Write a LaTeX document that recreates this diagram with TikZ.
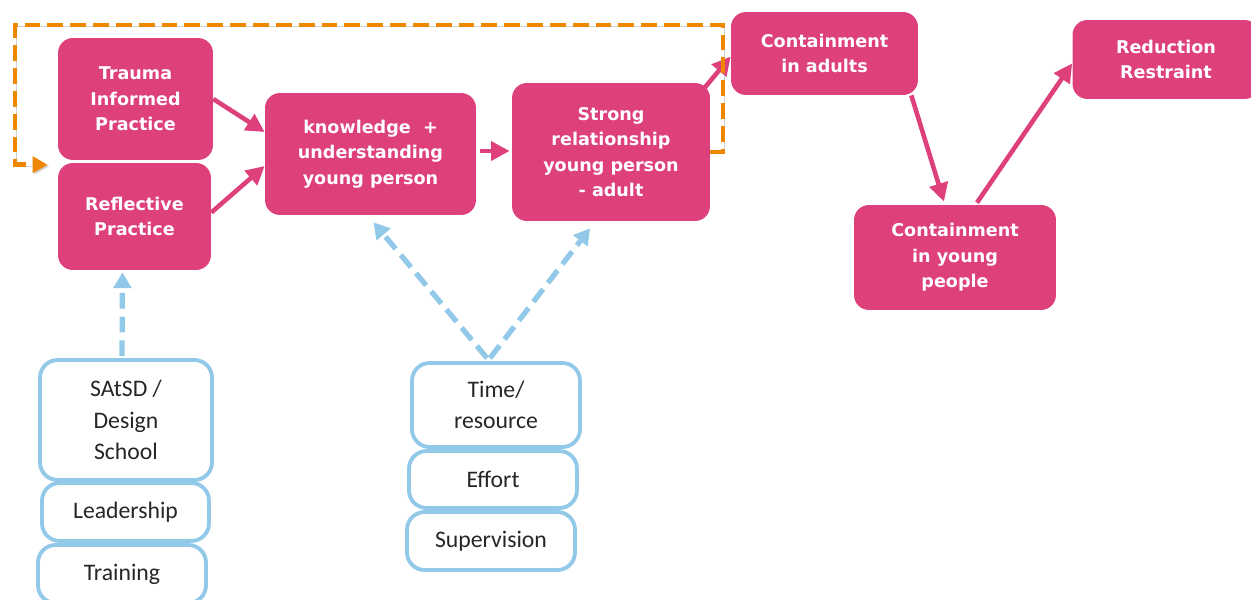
\documentclass[tikz,border=0pt]{standalone}
\usepackage{fontspec}
\setmainfont{DejaVu Sans}
\newfontfamily\calfont{Carlito}
\usetikzlibrary{calc,positioning,arrows.meta}
\definecolor{rosa}{RGB}{222,64,124}
\definecolor{sky}{RGB}{146,201,232}
\definecolor{amber}{RGB}{240,135,0}
\tikzset{
  pinknode/.style = {shape=rectangle, rounded corners=8.5pt,
                     fill=rosa, text=white, align=center, inner sep=2pt,
                     font=\fontsize{10}{14.5}\selectfont\bfseries},
  bluenode/.style = {shape=rectangle, rounded corners=10pt,
                     draw=sky, line width=2.2pt, fill=white, align=center,
                     inner sep=2pt, text=black!85,
                     font=\calfont\fontsize{13.5}{18}\selectfont},
  flow/.style     = {draw=rosa, line width=2.6pt,
                     -{Triangle[length=10.5pt,width=10.5pt]}},
  feed/.style     = {draw=sky, line width=3pt, dash pattern=on 9pt off 4.5pt,
                     -{Triangle[length=9pt,width=10pt]}},
  backloop/.style = {draw=amber, line width=2.8pt, dash pattern=on 9pt off 4pt,
                     -{Triangle[length=8.5pt,width=9pt]},
                     preaction={draw=black!35, opacity=0.5,
                                transform canvas={shift={(0.9pt,-0.9pt)}}}}
}

\begin{document}
\begin{tikzpicture}[x=0.02cm,y=-0.02cm]
\useasboundingbox (0,0) rectangle (1251,599);
% pink chain
\node [pinknode, minimum width=3.1cm, minimum height=2.44cm] (trauma) at (135.5,99) {Trauma\\Informed\\Practice};
\node [pinknode, minimum width=3.06cm, minimum height=2.14cm] (reflect) at (134.5,216.5) {Reflective\\Practice};
\node [pinknode, minimum width=4.22cm, minimum height=2.44cm] (know) at (370.5,154) {knowledge~~+\\understanding\\young person};
\node [pinknode, minimum width=3.96cm, minimum height=2.76cm] (strong) at (611,152) {Strong\\relationship\\young person\\- adult};
\node [pinknode, minimum width=3.74cm, minimum height=1.66cm] (adults) at (824.5,53.5) {Containment\\in adults};
\node [pinknode, minimum width=4.04cm, minimum height=2.1cm] (young) at (955,257.5) {Containment\\in young\\people};
\node [pinknode, minimum width=3.74cm, minimum height=1.58cm] (reduce) at (1166,59.5) {Reduction\\Restraint};
% supports
\node [bluenode, minimum width=3.44cm, minimum height=2.4cm] (satsd) at (126,420) {SAtSD /\\Design\\School};
\node [bluenode, minimum width=3.34cm, minimum height=1.16cm] (lead) at (125.5,512) {Leadership};
\node [bluenode, minimum width=3.36cm, minimum height=1.16cm] (train) at (122,574) {Training};
\node [bluenode, minimum width=3.36cm, minimum height=1.68cm] (time) at (496,405) {Time/\\resource};
\node [bluenode, minimum width=3.36cm, minimum height=1.14cm] (effort) at (493,479.5) {Effort};
\node [bluenode, minimum width=3.36cm, minimum height=1.16cm] (superv) at (491,541) {Supervision};
% arrows
\draw [flow] (trauma.east) -- ($(know.west)+(0,-22)$);
\draw [flow] ($(reflect.east)+(0,-4)$) -- ($(know.west)+(0,12)$);
\draw [flow] ($(know.east)+(4,-3)$) -- ($(strong.west)+(-2,-1)$);
\draw [flow] ($(strong.north east)+(-9,9)$) -- ($(adults.west)+(0,3)$);
\draw [flow] ($(adults.south east)+(-7,0)$) -- ($(young.north)+(-11,-3)$);
\draw [flow] ($(young.north)+(22,-2)$) -- ($(reduce.west)+(0,4)$);
\draw [feed] ($(satsd.north)+(-4,-2)$) -- ($(reflect.south)+(-12,2)$);
\draw [feed] ($(time.north)+(-9,-3)$) -- ($(know.south)+(3,7)$);
\draw [feed] ($(time.north)+(-6,-3)$) -- ($(strong.south)+(-21,7)$);
%\draw [feed] (effort.north) -- (time.south);
\coordinate (looptop) at (723,25);
\coordinate (loopleft) at (15,25);
\draw [backloop] (strong.east) -| (looptop) -- (loopleft) |- ($(reflect.north west)+(-10,2)$);
\end{tikzpicture}
\end{document}
